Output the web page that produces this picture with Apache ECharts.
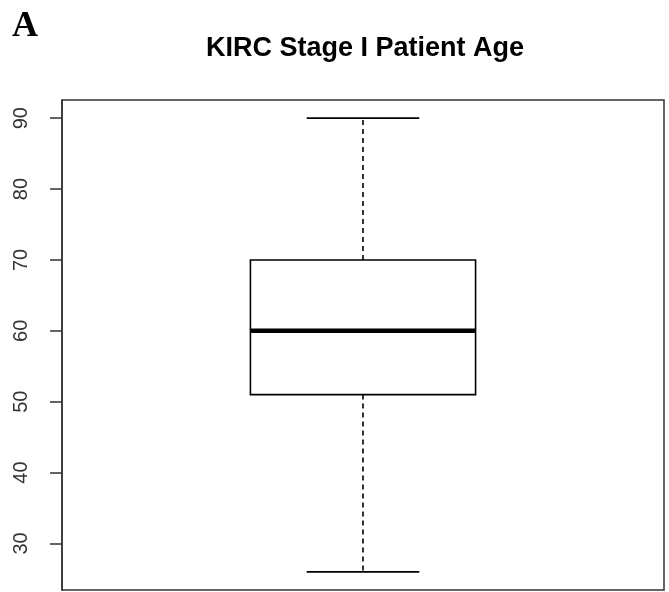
<!DOCTYPE html>
<html>
<head>
<meta charset="utf-8">
<script src="https://cdn.jsdelivr.net/npm/echarts@6/dist/echarts.min.js"></script>
<style>
html,body{margin:0;padding:0;background:#fff;}
#chart{width:669px;height:592px;}
</style>
</head>
<body>
<div id="chart"></div>
<script>
const categories = ['Stage I'];
const minValues = [26];
const q1Values = [51];
const medianValues = [60];
const q3Values = [70];
const maxValues = [90];
const yTicks = [30, 40, 50, 60, 70, 80, 90];
const yMin = 23.44;
const yMax = 92.56;

const data = categories.map((c, i) => [i + 1, minValues[i], q1Values[i], medianValues[i], q3Values[i], maxValues[i]]);

const chart = echarts.init(document.getElementById('chart'));

function renderItem(params, api) {
  const x = api.value(0);
  const pMin = api.coord([x, api.value(1)]);
  const pQ1 = api.coord([x, api.value(2)]);
  const pMed = api.coord([x, api.value(3)]);
  const pQ3 = api.coord([x, api.value(4)]);
  const pMax = api.coord([x, api.value(5)]);
  const unit = api.size([1, 0])[0];
  const hb = unit * 0.187;
  const hc = hb / 2;
  const cx = pMed[0];
  const lineStyle = { stroke: '#000', lineWidth: 1.6 };
  const dashStyle = { stroke: '#000', lineWidth: 1.6, lineDash: [5, 4] };
  return {
    type: 'group',
    children: [
      { type: 'line', shape: { x1: cx, y1: pQ3[1], x2: cx, y2: pMax[1] }, style: dashStyle },
      { type: 'line', shape: { x1: cx, y1: pQ1[1], x2: cx, y2: pMin[1] }, style: dashStyle },
      { type: 'line', shape: { x1: cx - hc, y1: pMax[1], x2: cx + hc, y2: pMax[1] }, style: lineStyle },
      { type: 'line', shape: { x1: cx - hc, y1: pMin[1], x2: cx + hc, y2: pMin[1] }, style: lineStyle },
      { type: 'rect', shape: { x: cx - hb, y: pQ3[1], width: hb * 2, height: pQ1[1] - pQ3[1] }, style: { fill: '#fff', stroke: '#000', lineWidth: 1.6 } },
      { type: 'line', shape: { x1: cx - hb, y1: pMed[1], x2: cx + hb, y2: pMed[1] }, style: { stroke: '#000', lineWidth: 4.5 } }
    ]
  };
}

chart.setOption({
  animation: false,
  backgroundColor: '#fff',
  title: [
    {
      text: 'KIRC Stage I Patient Age',
      left: 360,
      textAlign: 'center',
      top: 30,
      textStyle: { fontFamily: 'Liberation Sans, Arial, sans-serif', fontWeight: 'bold', fontSize: 27, color: '#000' }
    },
    {
      text: 'A',
      left: 7,
      top: 4,
      textStyle: { fontFamily: 'Liberation Serif, Times New Roman, serif', fontWeight: 'bold', fontSize: 36, color: '#000' }
    }
  ],
  grid: {
    left: 62, right: 5, top: 100, bottom: 2,
    show: true, borderColor: '#333', borderWidth: 1.5, backgroundColor: 'transparent'
  },
  xAxis: {
    type: 'value', min: 0.5, max: 1.5, show: false
  },
  yAxis: {
    type: 'value',
    min: yMin,
    max: yMax,
    splitLine: { show: false },
    axisLine: { show: true, lineStyle: { color: '#333', width: 1.5 } },
    axisTick: { show: true, length: 12, lineStyle: { color: '#333', width: 1.5 }, customValues: yTicks },
    axisLabel: {
      customValues: yTicks,
      rotate: 90,
      margin: 31,
      fontFamily: 'Liberation Sans, Arial, sans-serif',
      fontSize: 20,
      color: '#333'
    }
  },
  series: [{
    type: 'custom',
    renderItem: renderItem,
    encode: { x: 0, y: [1, 2, 3, 4, 5] },
    data: data
  }]
});
</script>
</body>
</html>
